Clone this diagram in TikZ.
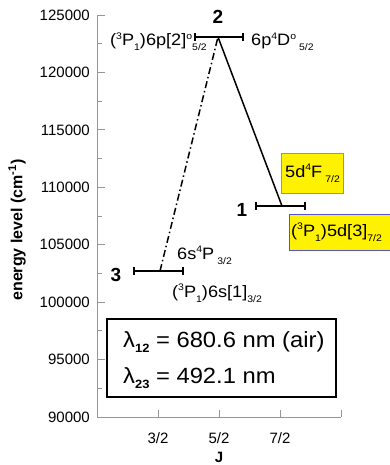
\documentclass[tikz,border=0pt]{standalone}
\usepackage{fontspec}
\setmainfont{Liberation Sans}
\usepackage{graphicx}
\newcommand\supx[1]{\raisebox{6.5pt}{\fontsize{9.5}{9.5}\selectfont #1}}
\newcommand\subx[1]{\raisebox{-5pt}{\fontsize{9.5}{9.5}\selectfont #1}}
\newcommand\wide[1]{\scalebox{1.1}[1]{#1}}
\definecolor{axgray}{RGB}{150,150,150}
\definecolor{boxcyan}{RGB}{64,176,224}
\definecolor{boxblue}{RGB}{85,85,200}
\tikzset{
  axisline/.style={draw=axgray, line width=0.9pt},
  ticklab/.style={font=\fontsize{15}{18}\selectfont, inner sep=0pt},
  lvlnum/.style={font=\fontsize{19}{21}\selectfont\bfseries, inner sep=0pt},
  statelab/.style={font=\fontsize{16.5}{18}\selectfont, inner sep=0pt, anchor=base west},
  ybox/.style={fill=yellow, line width=1pt, inner sep=0pt},
  trans/.style={line width=1.5pt},
  wltext/.style={anchor=base west, inner sep=0pt, font=\fontsize{22}{24}\selectfont},
}
\begin{document}
\begin{tikzpicture}[x=1pt,y=-1pt]
\useasboundingbox (0,0) rectangle (389,465);
% axes
\coordinate (ytop) at (97,15);
\coordinate (orig) at (97,417);
\coordinate (xend) at (341,417);
\draw[axisline] (ytop) -- (orig) -- (xend);
% y ticks and labels
\foreach \k/\lab in {0/125000,1/120000,2/115000,3/110000,4/105000,5/100000,6/95000,7/90000}{
  \pgfmathsetmacro\yy{15+\k*57.43}
  \draw[axisline] (97,\yy) -- (105,\yy);
  \node[ticklab, anchor=east] (yl\k) at (90,\yy) {\lab};
}
\foreach \k in {0,...,6}{
  \pgfmathsetmacro\yy{15+\k*57.43+28.7}
  \draw[axisline] (97,\yy) -- (101.5,\yy);
}
% x ticks
\foreach \xx in {158,219,280,341}{
  \draw[axisline] (\xx,417) -- (\xx,410);
}
\node[ticklab] (xl1) at (158,438) {3/2};
\node[ticklab] (xl2) at (219,438) {5/2};
\node[ticklab] (xl3) at (280,438) {7/2};
\node[ticklab, font=\fontsize{15}{18}\selectfont\bfseries, anchor=base] (jlab) at (219,462) {J};
\node[rotate=90, font=\fontsize{16}{18}\selectfont\bfseries, inner sep=0pt] (ylab) at (17,230) {energy level (cm\textsuperscript{-1})};
% levels
\coordinate (l2a) at (195,37); \coordinate (l2b) at (243,37);
\coordinate (l1a) at (256,206); \coordinate (l1b) at (305,206);
\coordinate (l3a) at (134,271); \coordinate (l3b) at (183,271);
\draw[line width=1.8pt] (l2a) -- (l2b);
\draw[line width=1.8pt] (l1a) -- (l1b);
\draw[line width=1.8pt] (l3a) -- (l3b);
\foreach \c in {l2a,l2b,l1a,l1b,l3a,l3b}{
  \draw[line width=1.3pt] ([yshift=-4pt]\c) -- ([yshift=4pt]\c);
}
\coordinate (p2) at (218,37);
\coordinate (p1) at (282,206);
\coordinate (p3) at (160,271);
\draw[trans] (p2) -- (p1);
\draw[trans, dash pattern=on 7pt off 3pt on 1.5pt off 3pt] (p3) -- (p2);
% level numbers
\node[lvlnum] (n2) at (218,17) {2};
\node[lvlnum] (n1) at (242,210) {1};
\node[lvlnum] (n3) at (116,275) {3};
% state labels
\node[statelab] (s2a) at (110,46) {\wide{(\supx{3}P\subx{1})6p[2]\supx{o}\subx{5/2}}};
\node[statelab] (s2b) at (251,46) {\wide{6p\supx{4}D\supx{o}\,\subx{5/2}}};
\node[statelab] (s3a) at (177,259) {\wide{6s\supx{4}P\,\subx{3/2}}};
\node[statelab] (s3b) at (172,297) {\wide{(\supx{3}P\subx{1})6s[1]\subx{3/2}}};
% yellow boxes
\draw[ybox, draw=boxcyan] (281,154) rectangle (343,193);
\node[statelab] (b1) at (285,177) {\wide{5d\supx{4}F\,\subx{7/2}}};
\draw[ybox, draw=boxblue] (289,214) rectangle (392,250);
\node[statelab] (b2) at (291,236) {\wide{(\supx{3}P\subx{1})5d[3]\subx{7/2}}};
% wavelength box
\node[draw, line width=2pt, minimum width=229pt, minimum height=78pt, inner sep=0pt] (wl) at (221.5,358) {};
\node[wltext] (w1) at (123,347) {\scalebox{1.08}[1]{λ\raisebox{-5pt}{\fontsize{12}{12}\selectfont\bfseries 12} = 680.6 nm (air)}};
\node[wltext] (w2) at (123,383) {\scalebox{1.08}[1]{λ\raisebox{-5pt}{\fontsize{12}{12}\selectfont\bfseries 23} = 492.1 nm}};
\end{tikzpicture}
\end{document}
